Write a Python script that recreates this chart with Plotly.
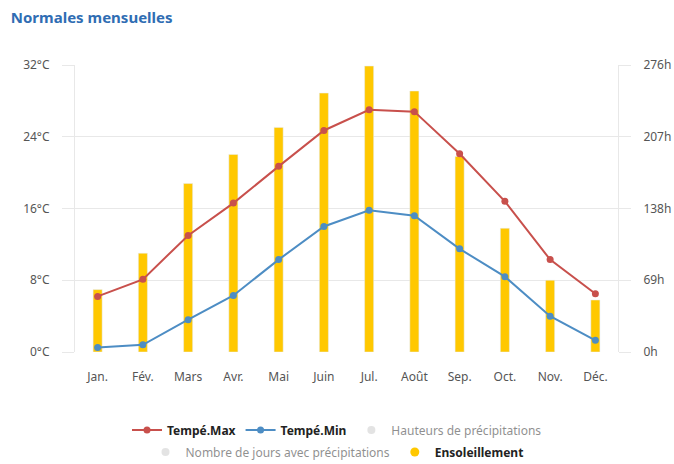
import plotly.graph_objects as go

months = ["Jan.", "Fév.", "Mars", "Avr.", "Mai", "Juin", "Jul.", "Août", "Sep.", "Oct.", "Nov.", "Déc."]
temp_max = [6.2, 8.1, 13.0, 16.6, 20.7, 24.7, 27.0, 26.8, 22.1, 16.8, 10.3, 6.5]
temp_min = [0.5, 0.8, 3.6, 6.3, 10.3, 14.0, 15.8, 15.2, 11.5, 8.4, 4.0, 1.3]
sunshine = [60, 95, 162, 190, 216, 249, 275, 251, 188, 119, 69, 50]
temp_ticks = [0, 8, 16, 24, 32]
sun_ticks = [0, 69, 138, 207, 276]

FONT = "'Noto Sans', Lato, sans-serif"
RED = "#C8504C"
BLUE = "#4D8DC4"
YELLOW = "#FFC800"
GRID = "#E8E8E8"
TICK = "#555555"

fig = go.Figure()

# Bars on the primary (right, hours) axis so that the temperature lines draw on top
fig.add_trace(go.Bar(x=months, y=sunshine, yaxis="y", marker_color=YELLOW,
                     width=0.2, showlegend=False, name="Ensoleillement"))
fig.add_trace(go.Scatter(x=months, y=temp_max, mode="lines+markers", name="<b>Tempé.Max</b>",
                         yaxis="y2", line=dict(color=RED, width=2),
                         marker=dict(size=7, color=RED), legend="legend"))
fig.add_trace(go.Scatter(x=months, y=temp_min, mode="lines+markers", name="<b>Tempé.Min</b>",
                         yaxis="y2", line=dict(color=BLUE, width=2),
                         marker=dict(size=7, color=BLUE), legend="legend"))
fig.add_trace(go.Scatter(x=[None], y=[None], mode="markers", name="Hauteurs de précipitations",
                         yaxis="y2", marker=dict(size=8, color="#C8C8C8"),
                         visible="legendonly", legend="legend"))
fig.add_trace(go.Scatter(x=[None], y=[None], mode="markers",
                         name="Nombre de jours avec précipitations",
                         yaxis="y2", marker=dict(size=8, color="#C8C8C8"),
                         visible="legendonly", legend="legend2"))
fig.add_trace(go.Scatter(x=[None], y=[None], mode="markers", name="<b>Ensoleillement</b>",
                         yaxis="y2", marker=dict(size=9, color=YELLOW), legend="legend2"))

fig.update_layout(
    width=674, height=464,
    margin=dict(l=75, r=56, t=65, b=112),
    paper_bgcolor="white", plot_bgcolor="white",
    font=dict(family=FONT, color=TICK, size=12),
    title=dict(text="<b>Normales mensuelles</b>", x=0.016, xanchor="left",
               y=1 - 18 / 464, yanchor="middle",
               font=dict(family=FONT, size=15, color="#2F6DB3")),
    xaxis=dict(type="category", showgrid=False, showline=False, ticks="outside",
               ticklen=14, tickcolor="rgba(0,0,0,0)", automargin=False,
               tickfont=dict(size=12, color=TICK), range=[-0.5, 11.5]),
    yaxis=dict(range=[0, 276], tickvals=sun_ticks, ticktext=[f"{v}h" for v in sun_ticks],
               side="right", showgrid=True, gridcolor=GRID, gridwidth=1, zeroline=False,
               showline=True, linecolor=GRID, ticks="outside", ticklen=12, tickcolor=GRID,
               ticklabelstandoff=10, automargin=False,
               tickfont=dict(size=12, color=TICK)),
    yaxis2=dict(range=[0, 32], tickvals=temp_ticks, ticktext=[f"{v}°C" for v in temp_ticks],
                overlaying="y", side="left", showgrid=False, zeroline=False,
                showline=True, linecolor=GRID, ticks="outside", ticklen=12, tickcolor=GRID,
                ticklabelstandoff=10, automargin=False,
                tickfont=dict(size=12, color=TICK)),
    legend=dict(orientation="h", x=0.5, xanchor="center", xref="container",
                y=1 - 430 / 464, yanchor="middle", yref="container",
                font=dict(size=12, color="#222222"), itemclick=False, itemdoubleclick=False,
                traceorder="normal", itemwidth=30),
    legend2=dict(orientation="h", x=0.5, xanchor="center", xref="container",
                 y=1 - 452 / 464, yanchor="middle", yref="container",
                 font=dict(size=12, color="#222222"), itemclick=False, itemdoubleclick=False,
                 traceorder="normal", itemwidth=30),
    bargap=0.8,
    hovermode=False,
)

fig.write_html("out.html", config={"displayModeBar": False},
               post_script="document.body.style.margin='0';")
